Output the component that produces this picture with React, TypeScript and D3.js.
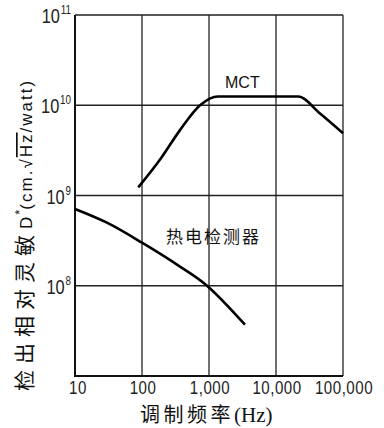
import React, { useEffect, useRef } from "react";
import * as d3 from "d3";

// frequency axis (Hz) and detectivity axis
const xTicks = [10, 100, 1000, 10000, 100000];
const xTickLabels = ["10", "100", "1,000", "10,000", "100,000"];
const yTicks = [1e7, 1e8, 1e9, 1e10, 1e11];
const yTickExp = ["", "8", "9", "10", "11"];

// MCT curve
const mctFreq = [88, 186, 369, 735, 1360, 21500, 45400, 100000];
const mctD = [1.23e9, 2.5e9, 5.3e9, 1.0e10, 1.25e10, 1.25e10, 8.1e9, 4.9e9];

// pyroelectric detector curve
const pyroFreq = [10, 30, 100, 369, 933, 3440];
const pyroD = [7.1e8, 5.0e8, 3.0e8, 1.63e8, 1.0e8, 3.7e7];

const W = 384;
const H = 428;
const margin = { top: 15, right: 41, bottom: 52, left: 75 };

const App = () => {
  const ref = useRef<SVGSVGElement>(null);

  useEffect(() => {
    const svg = d3.select(ref.current);
    svg.selectAll("*").remove();

    const x = d3
      .scaleLog()
      .domain([10, 100000])
      .range([margin.left, W - margin.right]);
    const y = d3
      .scaleLog()
      .domain([1e7, 1e11])
      .range([H - margin.bottom, margin.top]);

    const sans = "'Liberation Sans', Arial, sans-serif";
    const cjk = "'Noto Sans CJK SC', 'Noto Sans', sans-serif";

    // grid
    svg
      .append("g")
      .selectAll("line")
      .data(xTicks)
      .join("line")
      .attr("x1", (d) => x(d))
      .attr("x2", (d) => x(d))
      .attr("y1", y(1e7))
      .attr("y2", y(1e11))
      .attr("stroke", "#222")
      .attr("stroke-width", 1.3);

    svg
      .append("g")
      .selectAll("line")
      .data(yTicks)
      .join("line")
      .attr("x1", x(10))
      .attr("x2", x(100000))
      .attr("y1", (d) => y(d))
      .attr("y2", (d) => y(d))
      .attr("stroke", "#222")
      .attr("stroke-width", 1.3);

    // frame (left/bottom heavier)
    svg
      .append("path")
      .attr("d", `M${x(10)},${y(1e11)}V${y(1e7)}H${x(100000)}`)
      .attr("fill", "none")
      .attr("stroke", "#111")
      .attr("stroke-width", 2);

    // x tick labels (condensed look)
    svg
      .append("g")
      .selectAll("text")
      .data(xTicks)
      .join("text")
      .attr("transform", (d, i) => `translate(${x(d) + (i === 0 ? 3 : 1)},394) scale(0.84,1)`)
      .attr("text-anchor", "middle")
      .style("font-family", sans)
      .style("font-size", "18px")
      .style("letter-spacing", "0.6px")
      .attr("fill", "#222")
      .text((d, i) => xTickLabels[i]);

    // y tick labels 10^n
    const yl = svg
      .append("g")
      .selectAll("text")
      .data(yTicks.filter((d, i) => yTickExp[i] !== ""))
      .join("text")
      .attr("transform", (d) => `translate(71,${y(d) + 8}) scale(0.82,1)`)
      .attr("text-anchor", "end")
      .style("font-family", sans)
      .attr("fill", "#222");
    yl.append("tspan").style("font-size", "20px").text("10");
    yl.append("tspan")
      .attr("dy", -9)
      .attr("dx", 1)
      .style("font-size", "12px")
      .text((d) => yTickExp[yTicks.indexOf(d)]);

    // curves
    const line = d3
      .line<[number, number]>()
      .x((d) => x(d[0]))
      .y((d) => y(d[1]))
      .curve(d3.curveMonotoneX);

    svg
      .append("path")
      .datum(mctFreq.map((f, i) => [f, mctD[i]] as [number, number]))
      .attr("d", line)
      .attr("fill", "none")
      .attr("stroke", "#000")
      .attr("stroke-width", 2.6);

    svg
      .append("path")
      .datum(pyroFreq.map((f, i) => [f, pyroD[i]] as [number, number]))
      .attr("d", line.curve(d3.curveCatmullRom))
      .attr("fill", "none")
      .attr("stroke", "#000")
      .attr("stroke-width", 2.6);

    // curve labels
    svg
      .append("text")
      .attr("x", 225)
      .attr("y", 88)
      .style("font-family", sans)
      .style("font-size", "16px")
      .attr("fill", "#111")
      .text("MCT");

    svg
      .append("text")
      .attr("x", 166)
      .attr("y", 243)
      .style("font-family", cjk)
      .style("font-size", "17px")
      .style("letter-spacing", "2px")
      .attr("fill", "#111")
      .text("热电检测器");

    // x axis title
    const xt = svg
      .append("text")
      .attr("x", 140)
      .attr("y", 422)
      .attr("fill", "#111");
    xt.append("tspan")
      .style("font-family", cjk)
      .style("font-size", "20px")
      .style("letter-spacing", "3.5px")
      .text("调制频率");
    xt.append("tspan")
      .style("font-family", "'Liberation Serif', 'Times New Roman', serif")
      .style("font-size", "21px")
      .text("(Hz)");

    // y axis title
    const yt = svg
      .append("text")
      .attr("transform", "translate(32,391) rotate(-90)")
      .attr("fill", "#111");
    yt.append("tspan")
      .style("font-family", cjk)
      .style("font-size", "21px")
      .style("letter-spacing", "6px")
      .text("检出相对灵敏");
    const latinStyle = (t: d3.Selection<SVGTSpanElement, unknown, null, undefined>) =>
      t.style("font-family", sans).style("font-size", "17px").style("letter-spacing", "2px");
    latinStyle(yt.append("tspan")).text("D");
    yt.append("tspan")
      .attr("dy", -8)
      .style("font-family", sans)
      .style("font-size", "13px")
      .text("*");
    latinStyle(yt.append("tspan").attr("dy", 8)).text("(cm.√");
    latinStyle(yt.append("tspan")).style("text-decoration", "overline").text("Hz");
    latinStyle(yt.append("tspan")).text("/watt)");
  }, []);

  return (
    <svg
      ref={ref}
      width={W}
      height={H}
      style={{ position: "absolute", left: 0, top: 0, background: "#fff" }}
    />
  );
};

export default App;
